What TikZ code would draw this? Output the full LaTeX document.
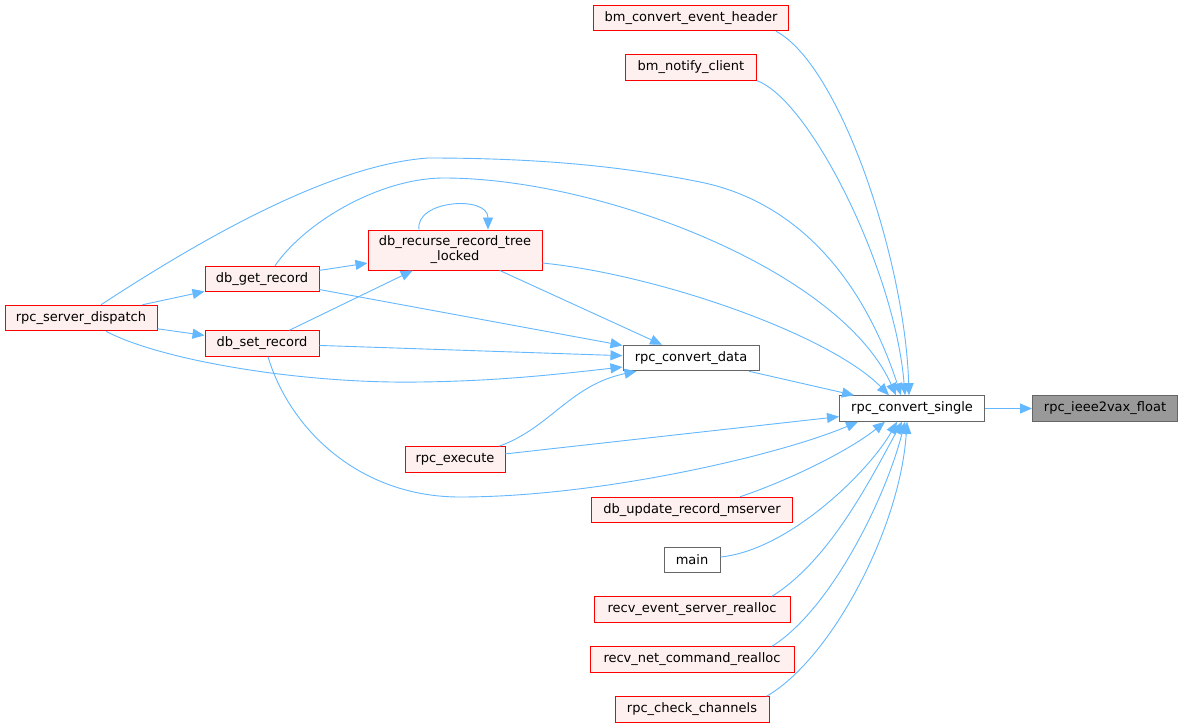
\documentclass[tikz,border=0pt]{standalone}
\usepackage{fontspec}
\setmainfont{DejaVu Sans}
\usetikzlibrary{arrows.meta,calc}
\definecolor{edgeblue}{HTML}{63B8FF}
\definecolor{redfill}{HTML}{FFF0F0}
\definecolor{grayline}{HTML}{666666}
\definecolor{hifill}{HTML}{999999}
\begin{document}
\begin{tikzpicture}[x=1pt,y=-1pt,
  fn/.style={rectangle, minimum height=25.5pt, inner sep=0pt, font=\fontsize{13}{15}\selectfont, align=center, line width=1pt},
  redbox/.style={fn, draw=red, fill=redfill},
  graybox/.style={fn, draw=grayline, fill=white},
  hibox/.style={fn, draw=grayline, fill=hifill},
  edge/.style={draw=edgeblue, line width=0.9pt, -{Triangle[length=12pt,width=10pt]}}]
\useasboundingbox[fill=white] (0,0) rectangle (1183,725);
% nodes
\node[hibox, minimum width=145pt] (ieee) at (1105,408.5) {rpc\_ieee2vax\_float};
\node[graybox, minimum width=145pt] (rcs) at (912,408.5) {rpc\_convert\_single};
\node[graybox, minimum width=136pt] (rcd) at (691,358) {rpc\_convert\_data};
\node[redbox, minimum width=195pt] (header) at (691,18) {bm\_convert\_event\_header};
\node[redbox, minimum width=131pt] (notify) at (691,67.5) {bm\_notify\_client};
\node[redbox, minimum width=174pt, minimum height=40pt] (recurse) at (455,250) {db\_recurse\_record\_tree\\\_locked};
\node[redbox, minimum width=114pt] (dbget) at (262,279) {db\_get\_record};
\node[redbox, minimum width=114pt] (dbset) at (262,343.5) {db\_set\_record};
\node[redbox, minimum width=152pt] (rsd) at (81,318) {rpc\_server\_dispatch};
\node[redbox, minimum width=100pt] (exec) at (455,459.5) {rpc\_execute};
\node[redbox, minimum width=201pt] (upd) at (692,510) {db\_update\_record\_mserver};
\node[graybox, minimum width=56pt] (main) at (692,560) {main};
\node[redbox, minimum width=196pt] (rev) at (692,609.5) {recv\_event\_server\_realloc};
\node[redbox, minimum width=204pt] (rnc) at (692,659.5) {recv\_net\_command\_realloc};
\node[redbox, minimum width=154pt] (chk) at (692,709.5) {rpc\_check\_channels};
% edges
\draw[edge] (rcs) -- (ieee);
\draw[edge] ($(header.south)+(85,0)$) .. controls (840,65) and (905,260) .. ($(rcs.north)+(-3,0)$);
\draw[edge] (notify.south east) .. controls (810,100) and (895,270) .. ($(rcs.north)+(-7,0)$);
\draw[edge] ($(rsd.north)+(20,0)$) .. controls (200,240) and (330,165) .. (428,158) .. controls (560,158) and (640,170) .. (700,182) .. controls (790,200) and (860,270) .. ($(rcs.north)+(-11,0)$);
\draw[edge] ($(dbget.north)+(13,0)$) .. controls (305,222) and (380,178) .. (444,178) .. controls (600,178) and (840,270) .. ($(rcs.north)+(-16,0)$);
\draw[edge] ($(recurse.east)+(0,13)$) .. controls (660,275) and (830,335) .. ($(rcs.north)+(-23,0)$);
\draw[edge] (rcd) -- (rcs);
\draw[edge] (exec) -- (rcs);
\draw[edge] ($(dbset.south)+(6,0)$) .. controls (290,430) and (360,497) .. (460,497) .. controls (600,497) and (780,455) .. ($(rcs.south)+(-54,0)$);
\draw[edge] ($(upd.north)+(48,0)$) .. controls (790,480) and (850,450) .. ($(rcs.south)+(-27,0)$);
\draw[edge] ($(main.east)+(0,-3)$) .. controls (790,550) and (870,470) .. ($(rcs.south)+(-15,0)$);
\draw[edge] ($(rev.north)+(80,0)$) .. controls (830,560) and (870,480) .. ($(rcs.south)+(-10,0)$);
\draw[edge] ($(rnc.north)+(80,0)$) .. controls (830,610) and (885,500) .. ($(rcs.south)+(-7,0)$);
\draw[edge] ($(chk.north east)+(-3,0)$) .. controls (830,660) and (900,530) .. ($(rcs.south)+(-5,0)$);
\draw[edge] (rsd) -- (dbget);
\draw[edge] (rsd) -- (dbset);
\draw[edge] ($(rsd.south)+(25,0)$) .. controls (160,360) and (300,384) .. (420,382) .. controls (500,381) and (560,374) .. ($(rcd.west)+(0,9)$);
\draw[edge] (dbget) -- (recurse);
\draw[edge] (dbset) -- (recurse);
\draw[edge] ($(recurse.north)+(-36,0)$) .. controls (415,200) and (488,195) .. ($(recurse.north)+(33,0)$);
\draw[edge] (dbget) -- (rcd);
\draw[edge] (dbset) -- (rcd);
\draw[edge] (recurse) -- (rcd);
\draw[edge] ($(exec.north)+(44,0)$) .. controls (550,428) and (570,385) .. ($(rcd.south west)+(14,0)$);
\end{tikzpicture}
\end{document}
